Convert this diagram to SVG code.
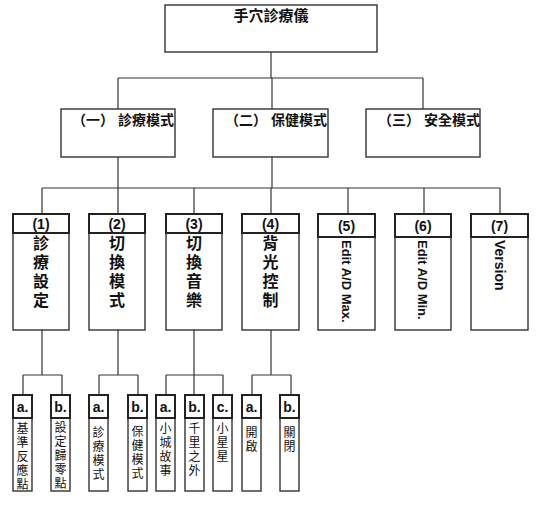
<svg xmlns="http://www.w3.org/2000/svg" width="550" height="516" viewBox="0 0 550 516">
<style>
text{font-family:"Liberation Sans","Noto Sans CJK TC",sans-serif;fill:#111}
.box{fill:#fff;stroke:#333;stroke-width:1.4}
.hdr{fill:#fff;stroke:#222;stroke-width:2}
.t1{font-size:15px;font-weight:bold;text-anchor:middle}
.t2{font-size:14px;font-weight:bold}
.h{font-size:14px;font-weight:bold;text-anchor:middle}
.v{font-size:16px;font-weight:bold;text-anchor:middle;dominant-baseline:central}
.r{font-size:13px;font-weight:bold}
.lv{font-size:12px;text-anchor:middle;dominant-baseline:central}
.conn line{stroke:#333;stroke-width:1.2}
</style>
<g class="conn" id="connectors">
<line x1="271" y1="52" x2="271" y2="78"/>
<line x1="118" y1="78" x2="423" y2="78"/>
<line x1="118" y1="78" x2="118" y2="109"/>
<line x1="272" y1="78" x2="272" y2="109"/>
<line x1="423" y1="78" x2="423" y2="109"/>
<line x1="118" y1="157" x2="118" y2="188"/>
<line x1="272" y1="157" x2="272" y2="188"/>
<line x1="42" y1="188" x2="500" y2="188"/>
<line x1="42" y1="188" x2="42" y2="214"/>
<line x1="118" y1="188" x2="118" y2="214"/>
<line x1="194" y1="188" x2="194" y2="214"/>
<line x1="271" y1="188" x2="271" y2="214"/>
<line x1="348" y1="188" x2="348" y2="214"/>
<line x1="424" y1="188" x2="424" y2="214"/>
<line x1="500" y1="188" x2="500" y2="214"/>
<line x1="42" y1="330" x2="42" y2="375"/>
<line x1="23" y1="375" x2="62" y2="375"/>
<line x1="23" y1="375" x2="23" y2="395"/>
<line x1="62" y1="375" x2="62" y2="395"/>
<line x1="118" y1="330" x2="118" y2="375"/>
<line x1="99" y1="375" x2="138" y2="375"/>
<line x1="99" y1="375" x2="99" y2="395"/>
<line x1="138" y1="375" x2="138" y2="395"/>
<line x1="194" y1="330" x2="194" y2="395"/>
<line x1="166" y1="375" x2="223" y2="375"/>
<line x1="166" y1="375" x2="166" y2="395"/>
<line x1="223" y1="375" x2="223" y2="395"/>
<line x1="271" y1="330" x2="271" y2="375"/>
<line x1="252" y1="375" x2="291" y2="375"/>
<line x1="252" y1="375" x2="252" y2="395"/>
<line x1="291" y1="375" x2="291" y2="395"/>
</g>
<g id="root"><rect class="box" x="165" y="5" width="212" height="47"/><text class="t1" x="271" y="21">手穴診療儀</text></g>
<g id="m1"><rect class="box" x="61" y="109" width="114" height="48"/><text class="t2" x="72" y="125">（一） 診療模式</text></g>
<g id="m2"><rect class="box" x="213" y="109" width="115" height="48"/><text class="t2" x="225" y="125">（二） 保健模式</text></g>
<g id="m3"><rect class="box" x="366" y="109" width="114" height="48"/><text class="t2" x="378" y="125">（三） 安全模式</text></g>
<g id="n1"><rect class="box" x="13" y="214" width="56" height="116"/><rect class="hdr" x="13" y="214" width="56" height="19"/><text class="h" x="41" y="229">(1)</text>
<text class="v" x="41" y="243">診</text><text class="v" x="41" y="262">療</text><text class="v" x="41" y="281">設</text><text class="v" x="41" y="300">定</text></g>
<g id="n2"><rect class="box" x="89" y="214" width="56" height="116"/><rect class="hdr" x="89" y="214" width="56" height="19"/><text class="h" x="117" y="229">(2)</text>
<text class="v" x="117" y="243">切</text><text class="v" x="117" y="262">換</text><text class="v" x="117" y="281">模</text><text class="v" x="117" y="300">式</text></g>
<g id="n3"><rect class="box" x="166" y="214" width="56" height="116"/><rect class="hdr" x="166" y="214" width="56" height="19"/><text class="h" x="194" y="229">(3)</text>
<text class="v" x="194" y="243">切</text><text class="v" x="194" y="262">換</text><text class="v" x="194" y="281">音</text><text class="v" x="194" y="300">樂</text></g>
<g id="n4"><rect class="box" x="242" y="214" width="57" height="116"/><rect class="hdr" x="242" y="214" width="57" height="19"/><text class="h" x="270.5" y="229">(4)</text>
<text class="v" x="270.5" y="243">背</text><text class="v" x="270.5" y="262">光</text><text class="v" x="270.5" y="281">控</text><text class="v" x="270.5" y="300">制</text></g>
<g id="n5"><rect class="box" x="318" y="214" width="57" height="116"/><rect class="hdr" x="318" y="214" width="57" height="23"/><text class="h" x="346.5" y="231">(5)</text>
<text class="r" transform="translate(346.5,240) rotate(90)" x="0" y="4.7">Edit A/D Max.</text></g>
<g id="n6"><rect class="box" x="395" y="214" width="56" height="116"/><rect class="hdr" x="395" y="214" width="56" height="23"/><text class="h" x="423" y="231">(6)</text>
<text class="r" transform="translate(423,240) rotate(90)" x="0" y="4.7">Edit A/D Min.</text></g>
<g id="n7"><rect class="box" x="471" y="214" width="57" height="116"/><rect class="hdr" x="471" y="214" width="57" height="23"/><text class="h" x="499.5" y="231">(7)</text>
<text class="r" transform="translate(499.5,240) rotate(90)" x="0" y="4.7" style="font-size:14px">Version</text></g>
<g id="l1a"><rect class="box" x="13" y="395" width="19" height="96"/><rect class="hdr" x="13" y="395" width="19" height="23"/><text class="h" x="22.5" y="412">a.</text>
<text class="lv" x="22.5" y="429">基</text><text class="lv" x="22.5" y="443">準</text><text class="lv" x="22.5" y="457">反</text><text class="lv" x="22.5" y="471">應</text><text class="lv" x="22.5" y="485">點</text></g>
<g id="l1b"><rect class="box" x="51" y="395" width="19" height="96"/><rect class="hdr" x="51" y="395" width="19" height="23"/><text class="h" x="60.5" y="412">b.</text>
<text class="lv" x="60.5" y="428">設</text><text class="lv" x="60.5" y="442">定</text><text class="lv" x="60.5" y="456">歸</text><text class="lv" x="60.5" y="470">零</text><text class="lv" x="60.5" y="484">點</text></g>
<g id="l2a"><rect class="box" x="89" y="395" width="19" height="96"/><rect class="hdr" x="89" y="395" width="19" height="23"/><text class="h" x="98.5" y="412">a.</text>
<text class="lv" x="98.5" y="433">診</text><text class="lv" x="98.5" y="447">療</text><text class="lv" x="98.5" y="461">模</text><text class="lv" x="98.5" y="475">式</text></g>
<g id="l2b"><rect class="box" x="128" y="395" width="19" height="96"/><rect class="hdr" x="128" y="395" width="19" height="23"/><text class="h" x="137.5" y="412">b.</text>
<text class="lv" x="137.5" y="432">保</text><text class="lv" x="137.5" y="446">健</text><text class="lv" x="137.5" y="460">模</text><text class="lv" x="137.5" y="474">式</text></g>
<g id="l3a"><rect class="box" x="156" y="395" width="19" height="96"/><rect class="hdr" x="156" y="395" width="19" height="23"/><text class="h" x="165.5" y="412">a.</text>
<text class="lv" x="165.5" y="429">小</text><text class="lv" x="165.5" y="443">城</text><text class="lv" x="165.5" y="457">故</text><text class="lv" x="165.5" y="471">事</text></g>
<g id="l3b"><rect class="box" x="185" y="395" width="19" height="96"/><rect class="hdr" x="185" y="395" width="19" height="23"/><text class="h" x="194.5" y="412">b.</text>
<text class="lv" x="194.5" y="429">千</text><text class="lv" x="194.5" y="443">里</text><text class="lv" x="194.5" y="457">之</text><text class="lv" x="194.5" y="471">外</text></g>
<g id="l3c"><rect class="box" x="213" y="395" width="19" height="96"/><rect class="hdr" x="213" y="395" width="19" height="23"/><text class="h" x="222.5" y="412">c.</text>
<text class="lv" x="222.5" y="429">小</text><text class="lv" x="222.5" y="443">星</text><text class="lv" x="222.5" y="457">星</text></g>
<g id="l4a"><rect class="box" x="242" y="395" width="19" height="96"/><rect class="hdr" x="242" y="395" width="19" height="23"/><text class="h" x="251.5" y="412">a.</text>
<text class="lv" x="251.5" y="433">開</text><text class="lv" x="251.5" y="447">啟</text></g>
<g id="l4b"><rect class="box" x="280" y="395" width="19" height="96"/><rect class="hdr" x="280" y="395" width="19" height="23"/><text class="h" x="289.5" y="412">b.</text>
<text class="lv" x="289.5" y="433">關</text><text class="lv" x="289.5" y="447">閉</text></g>
</svg>
